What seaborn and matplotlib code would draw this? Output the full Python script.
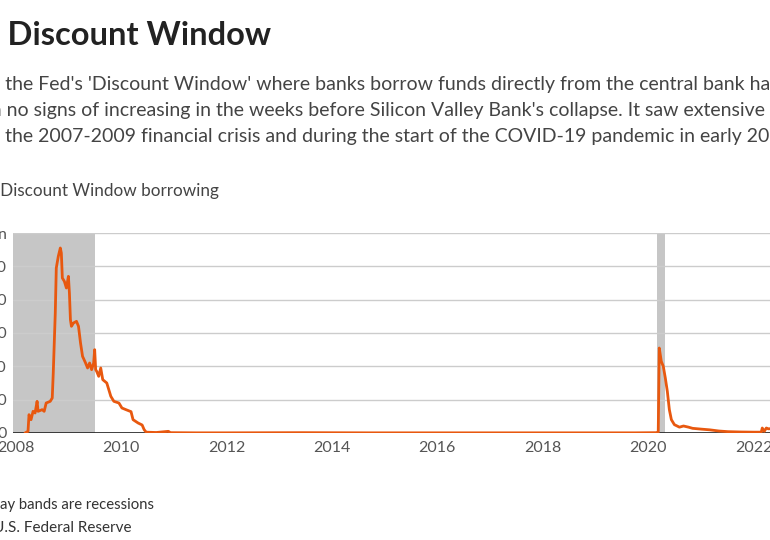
import seaborn as sns
import matplotlib.pyplot as plt
import matplotlib.dates as mdates
import pandas as pd
import numpy as np

# weekly discount window borrowing, $ bln
dates = ['2008-03-05', '2008-03-26', '2008-04-02', '2008-04-16', '2008-04-30', '2008-05-14',
         '2008-05-28', '2008-06-04', '2008-07-02', '2008-07-16', '2008-07-30', '2008-08-27',
         '2008-09-10', '2008-09-17', '2008-10-01', '2008-10-08', '2008-10-22', '2008-11-05',
         '2008-11-12', '2008-11-19', '2008-12-03', '2008-12-17', '2008-12-31', '2009-01-07',
         '2009-01-14', '2009-01-21', '2009-02-04', '2009-02-25', '2009-03-11', '2009-03-25',
         '2009-04-08', '2009-04-29', '2009-05-13', '2009-05-27', '2009-06-10', '2009-06-24',
         '2009-07-01', '2009-07-08', '2009-07-15', '2009-07-29', '2009-08-12', '2009-08-26',
         '2009-09-23', '2009-10-07', '2009-10-21', '2009-11-11', '2009-12-16', '2010-01-06',
         '2010-02-03', '2010-03-10', '2010-03-24', '2010-04-28', '2010-05-26', '2010-06-09',
         '2010-06-23', '2010-09-01', '2010-11-24', '2010-12-08', '2011-06-01', '2012-01-04',
         '2013-06-05', '2014-09-03', '2016-01-06', '2017-05-03', '2018-09-05', '2019-10-02',
         '2020-03-04', '2020-03-11', '2020-03-18', '2020-04-01', '2020-04-15', '2020-04-29',
         '2020-05-13', '2020-05-27', '2020-06-10', '2020-07-01', '2020-08-05', '2020-09-02',
         '2020-10-07', '2020-11-04', '2021-01-06', '2021-03-03', '2021-05-05', '2021-07-07',
         '2021-10-06', '2022-01-05', '2022-02-23', '2022-03-02', '2022-03-16', '2022-03-30',
         '2022-04-13', '2022-07-06', '2022-10-05', '2022-12-07', '2023-02-01', '2023-03-08']
borrowing = [0, 1, 11, 8, 13, 12,
             19, 13, 14, 13, 18, 19,
             21, 36, 72, 99, 106, 111,
             108, 93, 91, 87, 94, 84,
             68, 64, 66, 67, 64, 54,
             46, 42, 39, 42, 38, 42,
             50, 38, 37, 34, 39, 32,
             30, 26, 22, 19, 18, 15,
             14, 12.8, 8, 6, 4.8, 2,
             0.5, 0.3, 1.0, 0.2, 0.1, 0.1,
             0.2, 0.1, 0.1, 0.1, 0.1, 0.1,
             0.2, 0.5, 51, 43, 40, 33,
             25, 14, 8, 5, 3.5, 4.2,
             3.5, 2.8, 2.3, 1.9, 1.2, 0.8,
             0.6, 0.5, 0.5, 3, 1, 3,
             2.5, 3, 4, 5, 4.5, 4.6]

recession_start = ['2007-12-01', '2020-03-01']
recession_end = ['2009-06-30', '2020-04-30']

ytick_vals = [0, 20, 40, 60, 80, 100, 120]
ytick_text = ['0', '20', '40', '60', '80', '100', '$120 bln']
xtick_years = [2008, 2010, 2012, 2014, 2016, 2018, 2020, 2022]

df = pd.DataFrame({'date': pd.to_datetime(dates), 'value': borrowing})

W, H = 770, 540
sns.set_theme(style='white')
plt.rcParams['font.family'] = ['Lato', 'DejaVu Sans']

fig = plt.figure(figsize=(W / 100, H / 100), dpi=100)

# axes placed in pixels; the chart runs past the right edge of the picture
px_per_day = 52.7 / 365.25
x0 = pd.Timestamp('2007-12-13')
x1 = pd.Timestamp('2023-03-15')
ax_w = (x1 - x0).days * px_per_day
ax = fig.add_axes([13 / W, 107 / H, ax_w / W, 200 / H])

for s, e in zip(recession_start, recession_end):
    ax.axvspan(pd.Timestamp(s), pd.Timestamp(e), color='#c6c6c6', lw=0, zorder=0)

sns.lineplot(data=df, x='date', y='value', ax=ax, color='#e8580f', lw=2.0, zorder=3)
ax.axhline(0, color='#222222', lw=1.2, zorder=2)

ax.set_xlim(x0, x1)
ax.set_ylim(0, 120)
ax.set_yticks(ytick_vals)
ax.set_yticklabels(ytick_text)
ax.set_xticks([pd.Timestamp(f'{y}-01-01') for y in xtick_years])
ax.xaxis.set_major_formatter(mdates.DateFormatter('%Y'))
ax.grid(axis='y', color='#cccccc', lw=1)
ax.grid(axis='x', visible=False)
ax.tick_params(axis='both', length=0, labelsize=11.5, labelcolor='#555555')
ax.tick_params(axis='y', pad=4.5)
ax.tick_params(axis='x', pad=6)
for sp in ax.spines.values():
    sp.set_visible(False)
ax.set_xlabel('')
ax.set_ylabel('')

renderer = fig.canvas.get_renderer()


def put(hidden, visible, x_px, y_px, **kw):
    # line of text whose start runs off the left edge of the picture
    t = fig.text(0, 0, hidden, **kw)
    w = t.get_window_extent(renderer).width if hidden else 0
    t.remove()
    fig.text((x_px - w) / W, 1 - y_px / H, hidden + visible, va='baseline', **kw)


put("Fed's ", 'Discount Window', 7, 45, fontsize=23.5, fontweight='bold', color='#222222')
sub = dict(fontsize=14.0, color='#444444')
put('Borrowing from ', "the Fed's 'Discount Window' where banks borrow funds directly from the central bank had",
    5, 90, **sub)
put('shown ', "no signs of increasing in the weeks before Silicon Valley Bank's collapse. It saw extensive use",
    7, 116, **sub)
put('use in ', 'the 2007-2009 financial crisis and during the start of the COVID-19 pandemic in early 2020.',
    5, 142, **sub)
put('Weekly ', 'Discount Window borrowing', 0, 196, fontsize=12.3, color='#444444')
put('Note: Gr', 'ay bands are recessions', 0, 509, fontsize=10.7, color='#333333')
put('Source: ', 'U.S. Federal Reserve', -7, 532, fontsize=11, color='#333333')

fig.savefig('out.png', dpi=100)
